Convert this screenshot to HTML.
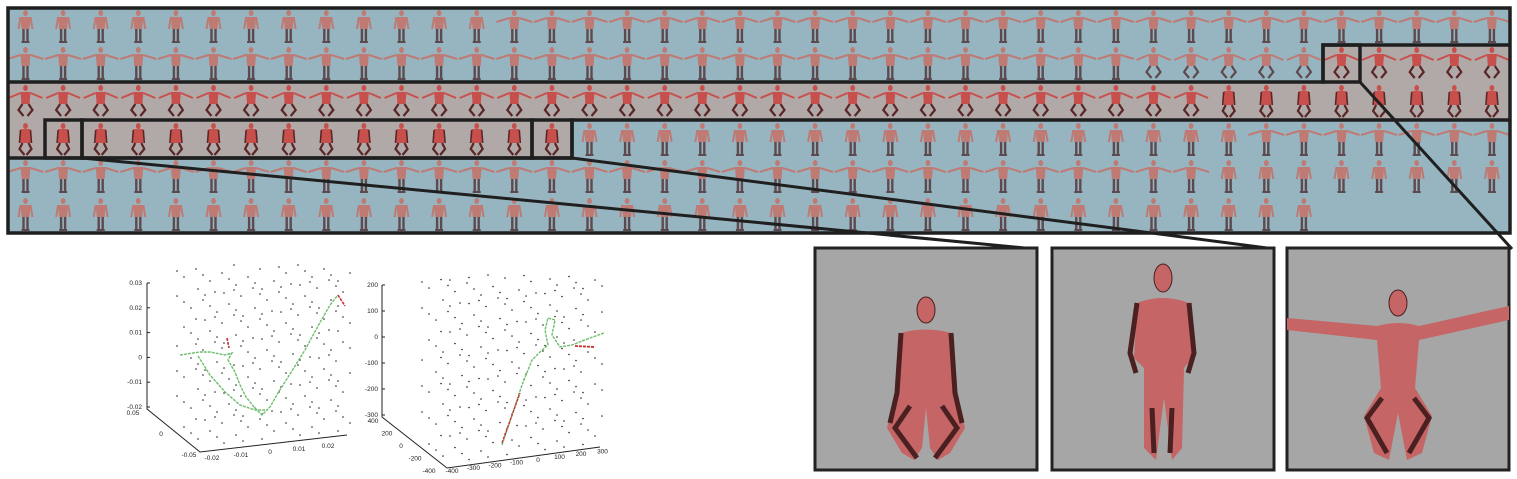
<!DOCTYPE html>
<html><head><meta charset="utf-8"><style>
html,body{margin:0;padding:0;background:#fff;width:1517px;height:479px;overflow:hidden;font-family:"Liberation Sans",sans-serif}
svg{position:absolute;left:0;top:0}
</style></head><body>
<svg id="fig" width="1517" height="479" viewBox="0 0 1517 479">
<g id="strip">
<rect x="8" y="8" width="1502" height="225" fill="#97b5c0"/>
<path d="M1323 45 H1510 V82 H1323 Z M8 82 H1510 V120 H8 Z M8 120 H572 V158 H8 Z" fill="#b0a9a8"/>
<g id="figs"></g>
<g fill="none" stroke="#1f1f1f" stroke-width="3.5">
<rect x="8" y="8" width="1502" height="225"/>
<path d="M8 82 H1323 V45 H1510 M8 158 H572 V120 H1510"/>
<rect x="45" y="120" width="37" height="38"/>
<rect x="82" y="120" width="450" height="38"/>
<rect x="532" y="120" width="40" height="38"/>
<rect x="1323" y="45" width="37" height="37"/>
</g>
</g>
<g stroke="#1f1f1f" stroke-width="3">
<line x1="82" y1="158" x2="1035" y2="249"/>
<line x1="572" y1="158" x2="1275" y2="249"/>
<line x1="1360" y1="82" x2="1512" y2="249"/>
</g>
<g id="plots"></g>
<g id="panels"></g>
</svg>
<script>
var NS="http://www.w3.org/2000/svg";
function mk(t,a,p){var e=document.createElementNS(NS,t);for(var k in a)e.setAttribute(k,a[k]);(p||document.getElementById('fig')).appendChild(e);return e;}
var rowY=[45,82,120,158,195,233];
var figs=document.getElementById('figs');
function person(cx,base,pose,scale,parent,squatHue){
  var g=mk('g',{transform:'translate('+cx+','+base+') scale('+scale+')'},parent);
  
  
  var body=squatHue?'#c8504c':'#bf7a74', dark=squatHue?'#5a2626':'#5d4a4e';
  mk('ellipse',{cx:0,cy:-30,rx:2.4,ry:3,fill:body},g);
  if(pose==='stand'||pose==='tpose'||pose==='sq-t'){
    mk('path',{d:'M-5 -26 L5 -26 L4 -14 L-4 -14 Z',fill:body},g);
  }
  if(pose==='stand'){
    mk('path',{d:'M-5 -26 L-7 -14 M5 -26 L7 -14',stroke:body,'stroke-width':2,fill:'none'},g);
    mk('path',{d:'M-2 -14 L-2 -1 M2 -14 L2 -1',stroke:dark,'stroke-width':2.4},g);
    mk('path',{d:'M-4 -1 H4',stroke:dark,'stroke-width':2},g);
  } else if(pose==='tpose'){
    mk('path',{d:'M-18 -21 L-5 -25 M5 -25 L18 -21',stroke:body,'stroke-width':2,fill:'none'},g);
    mk('path',{d:'M-2 -14 L-2 -1 M2 -14 L2 -1',stroke:dark,'stroke-width':2.4},g);
    mk('path',{d:'M-4 -1 H4',stroke:dark,'stroke-width':2},g);
  } else if(pose==='sq-t'){
    mk('path',{d:'M-17 -20 L-5 -25 M5 -25 L17 -20',stroke:body,'stroke-width':2,fill:'none'},g);
    mk('path',{d:'M-3 -14 L-7 -8 L-2 -2 M3 -14 L7 -8 L2 -2',stroke:dark,'stroke-width':2.2,fill:'none'},g);
  } else {
    mk('path',{d:'M-5 -27 L5 -27 L5 -13 L-5 -13 Z',fill:body},g);
    mk('path',{d:'M-5 -26 L-6 -13 M5 -26 L6 -13',stroke:dark,'stroke-width':1.6},g);
    mk('path',{d:'M-3 -13 L-6 -7 L-1 -1 M3 -13 L6 -7 L1 -1',stroke:dark,'stroke-width':2.2,fill:'none'},g);
  }
}
for(var r=0;r<6;r++){
  for(var c=0;c<40;c++){
    var x=25.5+37.6*c;
    if(r===5&&c>34)continue;
    var pose,sq=false;
    if(r===0)pose=c<13?'stand':'tpose';
    else if(r===1){pose=c<30?'tpose':'sq-t';sq=(x>1323);}
    else if(r===2){pose=c<32?'sq-t':'squat';sq=true;}
    else if(r===3){if(x<572){pose='squat';sq=true;}else pose=c<33?'stand':'tpose';}
    else if(r===4)pose=c<32?'tpose':'stand';
    else pose='stand';
    person(x,rowY[r]-2,pose,1,figs,sq);
  }
}
var plots=document.getElementById('plots');
var p1ZTicks=['0.03','0.02','0.01','0','-0.01','-0.02'];
var p1YTicks=['0.05','0','-0.05'];
var p1XTicks=['-0.02','-0.01','0','0.01','0.02'];
var p2ZTicks=['200','100','0','-100','-200','-300'];
var p2YTicks=['400','200','0','-200','-400'];
var p2XTicks=['-400','-300','-200','-100','0','100','200','300'];
var p1Green=[[180,355],[193,353],[200,352],[210,352],[225,355],[232,353],[228,360],[235,372],[240,385],[246,397],[254,407],[262,415],[270,407],[278,393],[290,374],[305,350],[318,326],[330,305],[338,295]];
var p1Green2=[[198,356],[210,375],[225,392],[240,405],[255,410],[265,410]];
var p1Red=[[227,338],[229,348]];
var p1Red2=[[338,295],[345,306]];
var p2Green=[[502,445],[512,415],[522,385],[532,360],[540,352],[548,345],[545,330],[548,318],[555,320],[552,335],[560,347],[572,345],[590,338],[604,333]];
var p2Red=[[502,443],[520,393]];
var p2Red2=[[575,346],[595,347]];
function tickG(label){var g=mk('g',{},plots);return g;}
function txt(g,x,y,s,anchor){var t=mk('text',{x:x,y:y,'font-size':'6.5','fill':'#222','text-anchor':anchor||'middle'},g);t.textContent=s;return t;}
function poly(g,pts,col,w){mk('polyline',{points:pts.map(function(p){return p.join(',')}).join(' '),fill:'none',stroke:col,'stroke-width':w,'stroke-dasharray':'3 1'},g);}
function dots(g,ox,oy,ax,ay,bx,by,cz,ni,nj,nk,box){
  for(var i=0;i<ni;i++)for(var j=0;j<nj;j++)for(var k=0;k<nk;k++){
    if((i*7+j*3+k*5)%4===0)continue;
    var x=ox+ax*i+bx*j, y=oy+ay*i+by*j-cz*k;
    if(x<box[0]||x>box[2]||y<box[1]||y>box[3])continue;
    mk('circle',{cx:x.toFixed(1),cy:y.toFixed(1),r:0.8,fill:'#222'},g);
  }
}
(function(){
  var g=tickG('plot-3d-left');
  dots(g,205,445,19,-2,-7,-6,25,9,5,7,[160,265,350,450]);
  mk('path',{d:'M147 283 V409 L200 452 L347 435',stroke:'#222','stroke-width':1,fill:'none'},g);
  p1ZTicks.forEach(function(s,i){var y=283+i*24.8;txt(g,142,y+2,s,'end');mk('line',{x1:147,y1:y,x2:150,y2:y,stroke:'#222'},g);});
  p1YTicks.forEach(function(s,i){txt(g,133+i*28,415+i*21,s,'middle');});
  p1XTicks.forEach(function(s,i){txt(g,212+i*29,460-i*3,s,'middle');});
  poly(g,p1Green,'#6fbe6f',1.4);poly(g,p1Green2,'#6fbe6f',1.4);
  poly(g,p1Red,'#c83030',1.6);poly(g,p1Red2,'#c83030',1.6);
  var g2=tickG('plot-3d-right');
  dots(g2,450,462,19,-2.5,-7,-6,26,9,5,8,[392,275,605,465]);
  mk('path',{d:'M382 285 V417 L447 468 L600 447',stroke:'#222','stroke-width':1,fill:'none'},g2);
  p2ZTicks.forEach(function(s,i){var y=285+i*26;txt(g2,378,y+2,s,'end');mk('line',{x1:382,y1:y,x2:385,y2:y,stroke:'#222'},g2);});
  p2YTicks.forEach(function(s,i){txt(g2,373+i*14,423+i*12.5,s,'middle');});
  p2XTicks.forEach(function(s,i){txt(g2,452+i*21.5,473-i*2.8,s,'middle');});
  poly(g2,p2Green,'#6fbe6f',1.4);
  poly(g2,p2Red,'#c83030',1.4);poly(g2,p2Red2,'#c83030',1.8);
})();
var panels=document.getElementById('panels');
var panelX=[815,1052,1287];
var panelPose=['squat','stand','tsquat'];
panelX.forEach(function(px,i){
  var g=mk('g',{transform:'translate('+px+',248)'},panels);
  
  
  mk('rect',{x:0,y:0,width:222,height:222,fill:'#a6a6a6',stroke:'#222','stroke-width':3},g);
  var B='#c56565',D='#4a2020',cx=111;
  if(panelPose[i]==='stand'){
    mk('ellipse',{cx:cx,cy:30,rx:9,ry:14,fill:B,stroke:D},g);
    mk('path',{d:'M85 55 Q111 45 137 55 L140 110 L132 120 L130 200 L120 212 L112 150 L104 212 L92 200 L92 120 L82 110 Z',fill:B},g);
    mk('path',{d:'M85 55 L78 105 L84 125 M137 55 L142 105 L136 125 M100 160 L102 205 M120 160 L118 205',stroke:D,'stroke-width':5,fill:'none'},g);
  } else {
    var hy=i===0?62:55;
    mk('ellipse',{cx:cx,cy:hy,rx:9,ry:13,fill:B,stroke:D},g);
    if(i===0){
      mk('path',{d:'M86 85 Q111 78 136 85 L140 140 L150 180 L135 205 L123 212 L115 200 L111 160 L107 200 L99 212 L87 205 L72 180 L82 140 Z',fill:B},g);
      mk('path',{d:'M86 85 L82 145 L75 175 M136 85 L140 145 L147 175 M95 158 L80 180 L102 210 M127 158 L142 180 L120 210',stroke:D,'stroke-width':5,fill:'none'},g);
    } else {
      mk('path',{d:'M0 70 L90 78 Q111 72 132 78 L222 58 L222 72 L132 92 L128 140 L145 168 L135 205 L120 212 L111 165 L102 212 L87 205 L77 168 L94 140 L90 92 L0 82 Z',fill:B},g);
      mk('path',{d:'M95 150 L80 170 L100 205 M127 150 L142 170 L122 205',stroke:D,'stroke-width':5,fill:'none'},g);
    }
  }
});
</script>
</body></html>
